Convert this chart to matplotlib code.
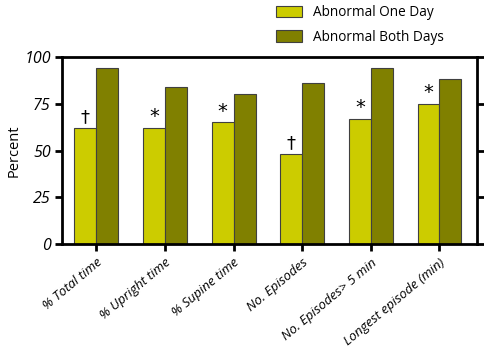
import matplotlib
matplotlib.use("Agg")
import matplotlib.pyplot as plt
import numpy as np

categories = ["% Total time", "% Upright time", "% Supine time", "No. Episodes",
              "No. Episodes> 5 min", "Longest episode (min)"]
one_day = [62, 62, 65, 48, 67, 75]
both_days = [94, 84, 80, 86, 94, 88]
marks = ["\u2020", "*", "*", "\u2020", "*", "*"]

plt.rcParams['font.family'] = ['Open Sans', 'DejaVu Sans']

fig = plt.figure(figsize=(4.84, 3.58), dpi=100)
ax = fig.add_axes([0.128, 0.318, 0.858, 0.523])

x = np.arange(len(categories))
w = 0.32
b1 = ax.bar(x - w / 2, one_day, w, color="#CCCC00", edgecolor="#404040", linewidth=0.8,
            label="Abnormal One Day")
b2 = ax.bar(x + w / 2, both_days, w, color="#808000", edgecolor="#404040", linewidth=0.8,
            label="Abnormal Both Days")

# significance marks above the one-day bars
for xi, v, m in zip(x, one_day, marks):
    size = 14 if m == "*" else 13
    ax.text(xi - w / 2, v + 1, m, ha="center", va="bottom", fontsize=size,
            family="DejaVu Sans")

ax.set_xlim(-0.5, 5.55)
ax.set_ylim(0, 100)
ax.set_yticks([0, 25, 50, 75, 100])
ax.set_yticklabels(["0", "25", "50", "75", "100"], fontstyle="italic", fontsize=11.5)
ax.set_xticks(x)
ax.set_xticklabels(categories, rotation=40, ha="right", rotation_mode="anchor",
                   fontstyle="italic", fontsize=9.5)
ax.set_ylabel("Percent", fontsize=10.5, labelpad=2)

for s in ["left", "bottom", "top", "right"]:
    ax.spines[s].set_linewidth(2)
ax.tick_params(axis="both", width=2, length=5)
ax.tick_params(axis="y", right=True, pad=3)

fig.legend(handles=[b1, b2], loc="upper left", bbox_to_anchor=(0.545, 1.02), frameon=False,
           fontsize=9.8, handlelength=1.9, handleheight=0.9, labelspacing=0.7)

fig.savefig("out.png", dpi=100)
